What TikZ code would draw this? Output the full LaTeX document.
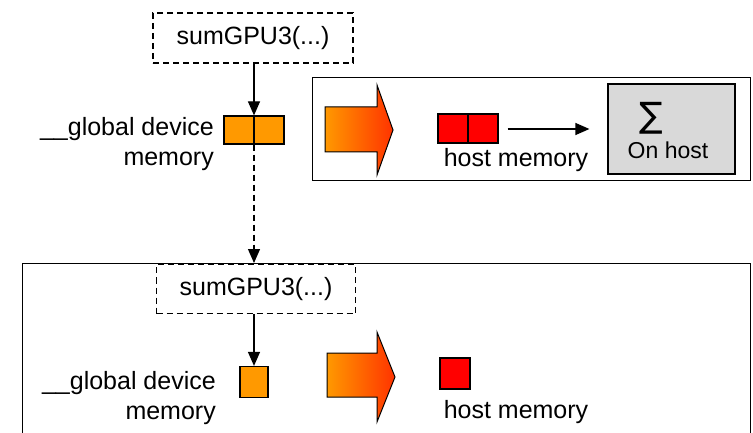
\documentclass[tikz,border=0pt]{standalone}
\usepackage{fontspec}
\setmainfont{Liberation Sans}
\newfontfamily\symbolfont{DejaVu Sans}
\usetikzlibrary{arrows.meta,calc}
\definecolor{orangeA}{RGB}{255,153,0}
\definecolor{redA}{RGB}{255,51,0}
\definecolor{memred}{RGB}{255,0,0}
\definecolor{grayA}{RGB}{217,217,217}
\begin{document}
\begin{tikzpicture}[x=1pt,y=-1pt,
  txt/.style={font=\fontsize{25}{30}\selectfont, inner sep=0pt, text=black},
  dbox/.style={draw, dash pattern=on 6pt off 4pt, line width=1.3pt, minimum width=200pt, minimum height=50pt, inner sep=0pt, font=\fontsize{25}{30}\selectfont},
  myframe/.style={draw, line width=1.4pt, inner sep=0pt},
  devmem/.style={draw, line width=1.2pt, fill=orangeA, inner sep=0pt},
  hostmem/.style={draw, line width=1.2pt, fill=memred, inner sep=0pt},
  conn/.style={line width=1.2pt, -{Triangle[length=14pt,width=12pt]}},
  bigarrow/.style={draw, line width=1pt, left color=orangeA, right color=redA}
]
\useasboundingbox (0,0) rectangle (753,433);

% ---------- top part ----------
\node[dbox] (k1) at (253,38) {sumGPU3(...)};
\node[devmem, minimum width=60pt, minimum height=28pt] (g1) at (254,130) {};
\draw[line width=1.2pt] (g1.north) -- (g1.south);
\node[txt, anchor=east, align=right] (l1) at (214,144) {\_\_global device\\memory};
\draw[conn] (k1.south -| g1.north) -- (g1.north);

\node[myframe, anchor=north west, minimum width=438pt, minimum height=103pt] (tf) at (312,77) {};
\path[bigarrow] (325,107) -- (377,107) -- (377,85) -- (393,130) -- (377,175) -- (377,152) -- (325,152) -- cycle;
\node[hostmem, minimum width=60pt, minimum height=29pt] (h1) at (468,128.5) {};
\draw[line width=1.2pt] (h1.north) -- (h1.south);
\node[txt] (hl1) at (516,160) {host memory};
\node[draw, line width=1.2pt, fill=grayA, minimum width=127pt, minimum height=90pt, inner sep=0pt] (sb) at (671.5,129) {};
\node[inner sep=0pt, font=\symbolfont\fontsize{35}{35}\selectfont] (sig) at (651,118) {∑};
\node[txt, font=\fontsize{23}{28}\selectfont] (oh) at (668,150) {On host};
\draw[conn, shorten <=9pt, shorten >=18pt] (h1.east |- sb.west) -- (sb.west);

% ---------- bottom part ----------
\node[myframe, anchor=north west, minimum width=728pt, minimum height=200pt] (bf) at (22,263) {};
\draw[conn, dash pattern=on 6pt off 4pt] (g1.south) -- (g1.south |- bf.north);
\node[dbox, minimum width=199pt, minimum height=49pt] (k2) at (256,289) {sumGPU3(...)};
\node[devmem, minimum width=28pt, minimum height=31pt] (g2) at (254,382) {};
\draw[conn] (g2.north |- k2.south) -- (g2.north);
\node[txt, anchor=east, align=right] (l2) at (216,398) {\_\_global device\\memory};
\path[bigarrow] (327,353) -- (377,353) -- (377,332) -- (395,377) -- (377,422) -- (377,397) -- (327,397) -- cycle;
\node[hostmem, minimum width=30pt, minimum height=31pt] (h2) at (455,373.5) {};
\node[txt] (hl2) at (516,412) {host memory};
\end{tikzpicture}
\end{document}
